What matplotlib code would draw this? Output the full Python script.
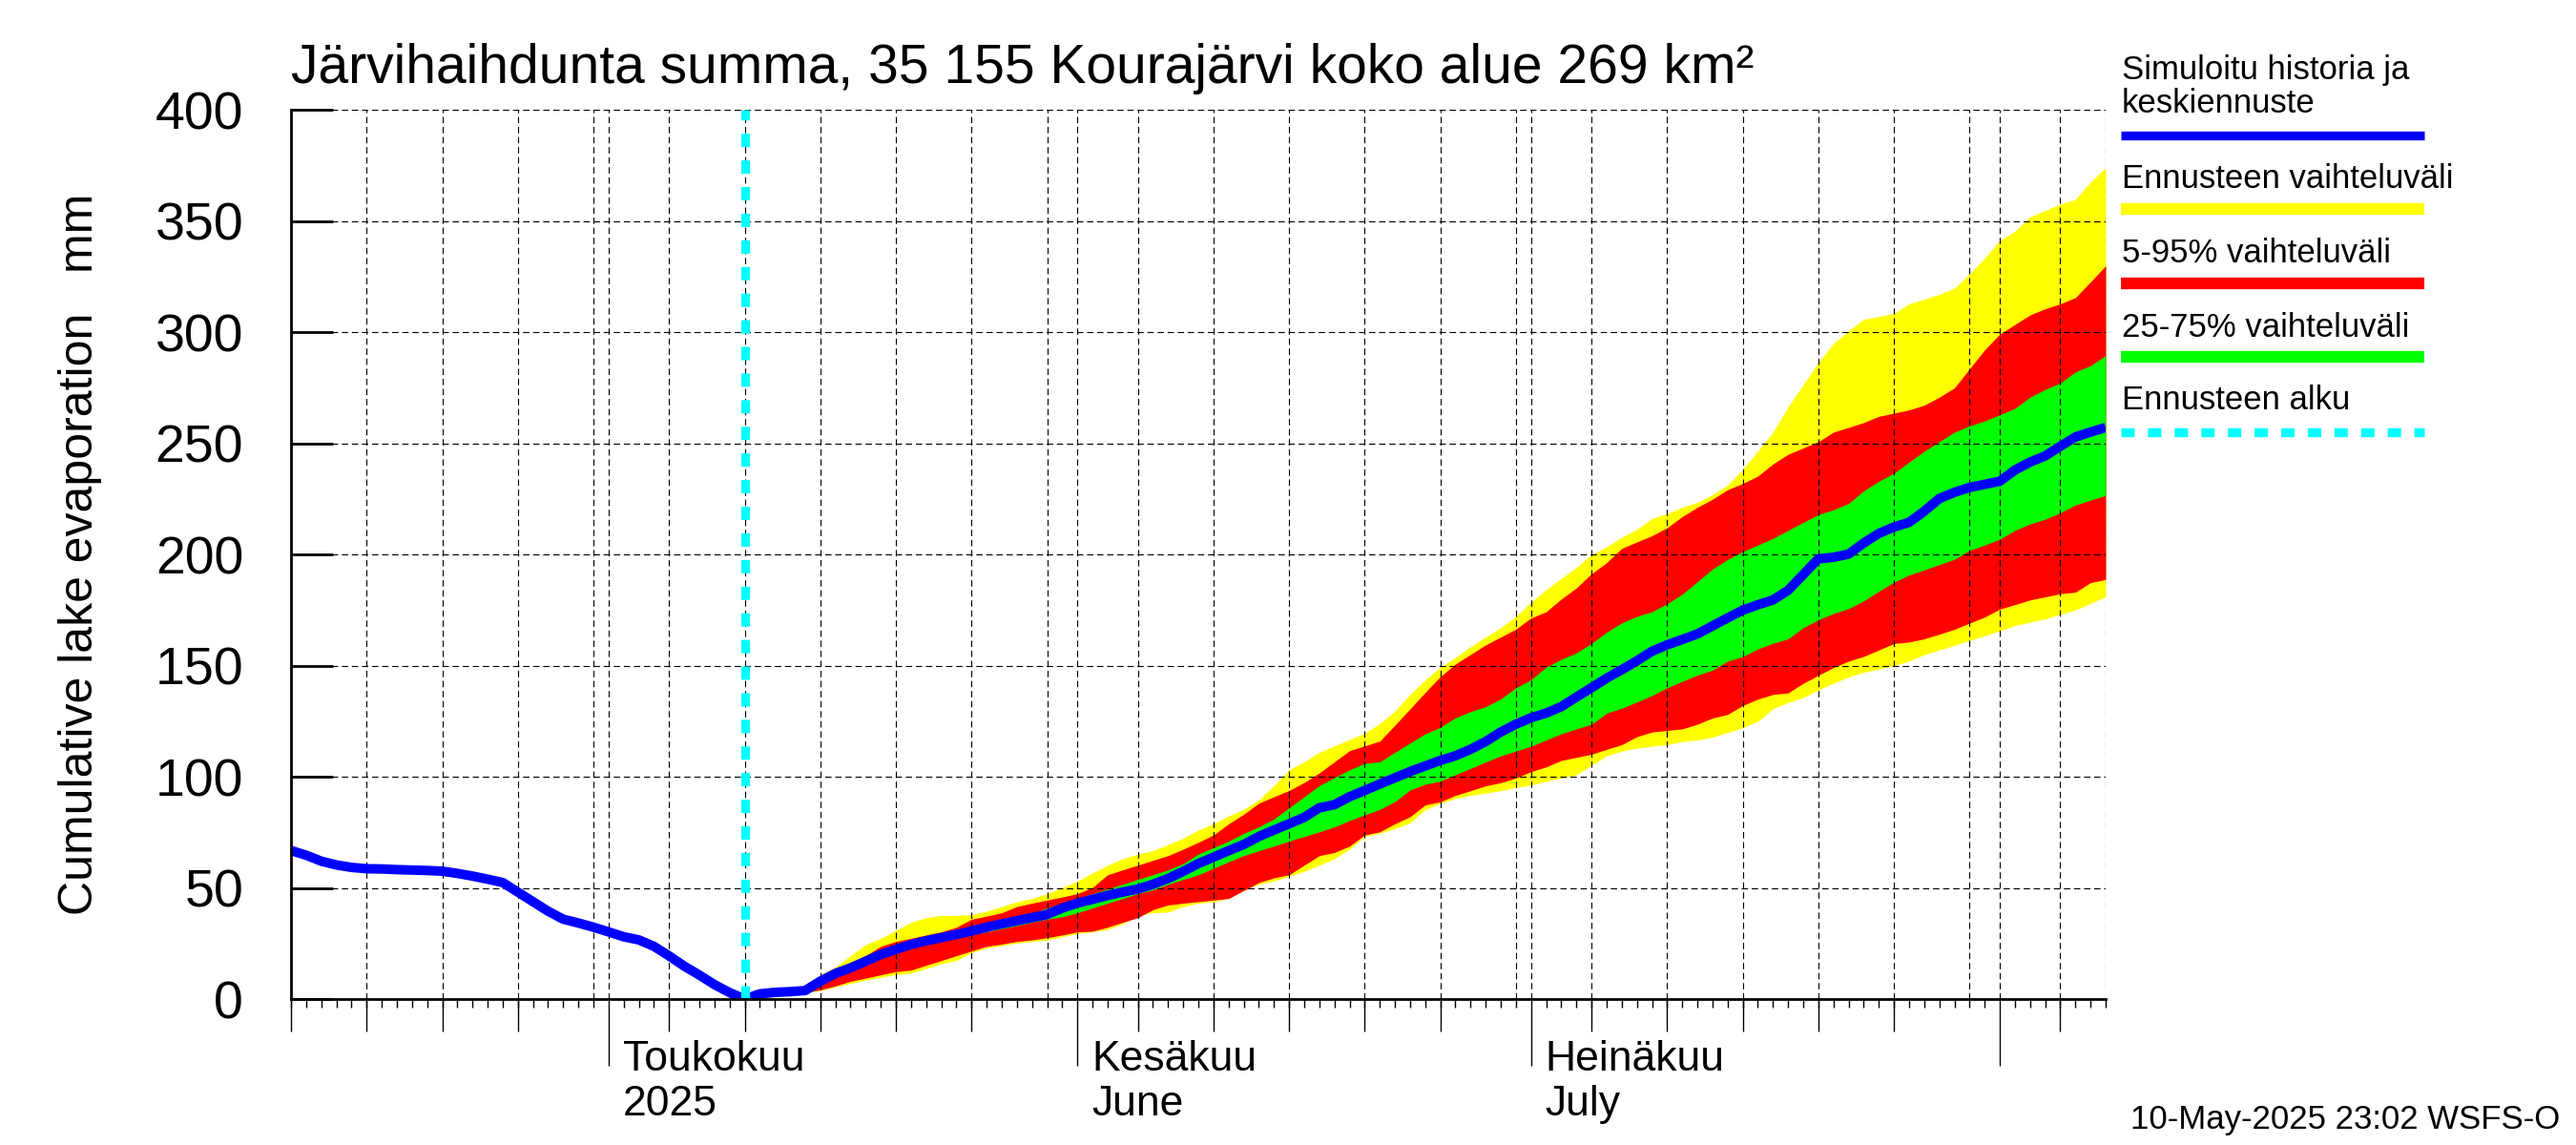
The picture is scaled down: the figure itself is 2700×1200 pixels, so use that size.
import numpy as np
import pandas as pd
import matplotlib
matplotlib.use("Agg")
import matplotlib.pyplot as plt
import matplotlib.dates as mdates
import matplotlib.transforms as mtransforms
from matplotlib.lines import Line2D

plt.rcParams['font.family'] = ['Liberation Sans', 'DejaVu Sans']

# ---- data (mm), daily from 10 Apr 2025 ----
start_date = '2025-04-10'
end_date = '2025-08-08'
forecast_start = '2025-05-10'

# simulated history 10.4. - 10.5.
history = [66.8, 64.7, 62.0, 60.3, 59.2, 58.6, 58.5, 58.2, 58.0, 57.8,
           57.5, 56.5, 55.3, 53.9, 52.4, 48.1, 43.8, 39.5, 35.9, 34.2,
           32.3, 30.2, 28.0, 26.6, 23.7, 19.4, 14.8, 10.8, 6.5, 2.9, 0.0]

# forecast 10.5. - 8.8.
median = [0.0, 2.3, 3.0, 3.3, 3.8, 8.0, 11.5, 14.0, 17.0, 20.0,
          22.3, 24.5, 26.2, 27.6, 29.0, 30.6, 32.3, 33.8, 35.2, 36.6,
          38.0, 40.9, 43.1, 44.8, 46.6, 48.1, 49.5, 51.6, 54.2, 57.4,
          60.9, 63.8, 66.7, 69.5, 73.1, 76.0, 78.8, 81.7, 86.0, 87.4,
          91.0, 93.8, 96.7, 99.5, 102.3, 104.8, 107.3, 109.4, 112.3, 115.8,
          120.1, 123.6, 126.5, 128.6, 131.5, 135.8, 140.0, 144.3, 148.1, 152.1,
          156.4, 159.3, 161.7, 164.2, 167.8, 171.4, 174.9, 177.3, 179.5, 183.8,
          190.9, 198.0, 198.7, 200.1, 205.1, 209.4, 212.3, 214.4, 219.4, 225.1,
          227.9, 230.1, 231.5, 232.9, 237.9, 241.5, 244.3, 248.6, 252.8, 255.0,
          257.1]

range_max = [0.0, 2.5, 3.3, 3.8, 5.0, 11.0, 14.4, 19.5, 24.5, 27.3,
             30.9, 34.5, 36.6, 37.6, 37.6, 38.0, 39.5, 41.6, 43.8, 45.2,
             47.4, 50.2, 53.0, 56.7, 60.2, 63.1, 65.2, 66.7, 69.5, 72.4,
             76.0, 78.8, 82.4, 85.3, 89.6, 96.0, 103.1, 106.7, 111.0, 113.9,
             116.7, 119.6, 123.9, 129.6, 137.0, 143.6, 149.3, 153.6, 158.5, 162.8,
             167.1, 172.1, 178.5, 184.2, 189.2, 194.2, 199.9, 203.4, 207.7, 211.3,
             216.2, 218.4, 221.2, 223.4, 226.9, 231.2, 238.3, 246.5, 255.0, 266.4,
             276.4, 286.3, 294.9, 300.6, 305.8, 307.0, 308.4, 312.7, 314.8, 317.0,
             319.8, 326.2, 333.3, 341.2, 345.4, 351.9, 354.7, 357.5, 359.7, 367.5,
             373.9]

p95 = [0.0, 2.4, 3.2, 3.6, 4.3, 10.2, 12.3, 15.9, 19.5, 23.7,
       25.9, 27.3, 28.8, 30.2, 32.3, 35.9, 37.3, 38.8, 41.6, 43.1,
       44.5, 45.9, 47.4, 50.2, 55.9, 58.1, 60.2, 62.4, 64.5, 67.4,
       70.5, 73.8, 78.8, 83.1, 88.1, 91.0, 93.8, 97.4, 101.7, 106.7,
       111.7, 113.9, 116.0, 123.2, 130.5, 137.9, 145.0, 150.7, 155.0, 159.3,
       162.8, 166.4, 171.4, 174.2, 179.9, 184.9, 191.3, 196.3, 202.7, 205.6,
       208.4, 212.0, 217.0, 221.2, 224.8, 229.1, 231.9, 235.2, 240.7, 245.0,
       247.9, 250.7, 255.0, 257.1, 259.3, 262.1, 263.5, 265.0, 267.1, 270.7,
       274.9, 283.5, 292.0, 299.1, 303.4, 307.7, 310.5, 312.7, 315.5, 322.6,
       329.8]

p75 = [0.0, 2.35, 3.1, 3.45, 3.9, 9.0, 12.8, 15.0, 18.0, 21.0,
       23.2, 25.2, 26.9, 28.5, 29.9, 31.6, 33.3, 34.9, 36.6, 38.5,
       40.9, 43.1, 45.2, 47.4, 49.5, 51.6, 53.8, 55.9, 58.1, 60.9,
       65.2, 68.1, 71.0, 74.5, 77.4, 81.0, 86.0, 91.0, 96.0, 99.6,
       103.1, 106.0, 106.7, 111.0, 115.1, 119.3, 122.2, 126.5, 129.3, 131.5,
       135.0, 140.0, 143.6, 149.3, 152.8, 155.7, 160.0, 165.0, 169.2, 172.1,
       174.2, 177.8, 182.1, 187.7, 193.4, 197.7, 201.3, 204.2, 207.2, 210.8,
       214.4, 217.9, 220.1, 222.9, 228.6, 232.9, 236.5, 241.5, 246.4, 250.7,
       255.0, 257.8, 260.0, 262.8, 265.7, 270.7, 274.2, 277.1, 282.1, 284.9,
       289.5]

p25 = [0.0, 2.2, 2.9, 3.15, 3.6, 7.0, 10.5, 13.0, 16.0, 19.0,
       21.2, 23.0, 24.7, 26.2, 27.6, 29.0, 30.2, 31.6, 33.0, 34.5,
       35.9, 37.0, 38.8, 40.9, 43.1, 45.2, 47.4, 49.1, 51.6, 53.8,
       55.9, 58.8, 61.7, 64.5, 66.7, 68.8, 71.0, 73.1, 75.2, 77.4,
       80.3, 82.8, 85.3, 88.8, 94.0, 96.6, 98.0, 100.9, 103.7, 106.6,
       109.4, 111.5, 113.7, 116.5, 119.3, 121.5, 123.6, 128.6, 130.8, 133.6,
       136.5, 140.0, 142.9, 145.7, 147.9, 152.0, 154.0, 157.5, 160.0, 162.0,
       167.0, 170.6, 173.4, 175.6, 179.1, 183.4, 187.5, 190.7, 193.0, 195.4,
       197.8, 201.8, 204.2, 206.8, 210.8, 213.7, 215.8, 218.7, 222.2, 224.4,
       226.5]

p5 = [0.0, 2.0, 2.6, 2.9, 3.0, 4.1, 5.9, 8.0, 9.4, 10.9,
      12.3, 13.0, 15.2, 17.3, 19.5, 21.6, 23.7, 24.7, 25.9, 26.6,
      27.6, 28.8, 30.2, 30.5, 32.3, 34.5, 36.6, 40.2, 42.3, 43.1,
      43.8, 44.5, 45.2, 48.8, 52.4, 54.5, 55.9, 60.2, 64.5, 65.9,
      68.8, 73.8, 75.2, 78.8, 82.0, 87.3, 88.7, 91.6, 93.7, 95.9,
      97.3, 99.4, 102.3, 104.4, 107.3, 108.7, 110.1, 112.3, 114.4, 118.0,
      120.1, 120.8, 121.5, 123.6, 126.4, 128.0, 132.0, 134.9, 137.0, 137.7,
      142.0, 145.6, 149.1, 152.0, 154.1, 157.0, 159.9, 160.6, 162.0, 164.1,
      166.3, 169.1, 171.8, 175.4, 177.4, 179.5, 180.9, 182.3, 183.0, 187.3,
      188.7]

range_min = [0.0, 1.9, 2.5, 2.8, 2.9, 3.8, 5.5, 7.0, 8.5, 9.7,
             11.0, 11.6, 13.7, 15.9, 17.3, 20.9, 23.0, 24.0, 25.2, 25.9,
             26.6, 28.0, 29.5, 30.2, 31.3, 33.8, 37.6, 38.8, 39.1, 41.6,
             43.1, 43.8, 45.2, 48.8, 51.6, 53.1, 55.2, 57.4, 60.2, 63.1,
             67.4, 73.1, 74.5, 76.7, 79.2, 85.2, 88.0, 90.2, 91.6, 92.6,
             93.7, 95.2, 96.2, 98.0, 99.4, 100.9, 105.1, 109.4, 111.5, 112.9,
             113.7, 114.4, 115.8, 116.5, 117.8, 119.9, 122.0, 124.9, 130.6, 133.4,
             135.6, 139.1, 142.0, 144.9, 147.0, 148.4, 149.9, 152.0, 154.9, 157.0,
             159.1, 161.3, 163.4, 165.6, 168.0, 169.5, 171.0, 173.0, 175.0, 178.0,
             180.9]

month_labels = ['Toukokuu\n2025', 'Kesäkuu\nJune', 'Heinäkuu\nJuly', '']
y_ticks = [0, 50, 100, 150, 200, 250, 300, 350, 400]

title = 'Järvihaihdunta summa, 35 155 Kourajärvi koko alue 269 km²'
ylabel = 'Cumulative lake evaporation   mm'
legend_items = [
    (['Simuloitu historia ja', 'keskiennuste'], '#0000ff'),
    (['Ennusteen vaihteluväli'], '#ffff00'),
    (['5-95% vaihteluväli'], '#ff0000'),
    (['25-75% vaihteluväli'], '#00ff00'),
    (['Ennusteen alku'], '#00ffff'),
]
footer = '10-May-2025 23:02 WSFS-O'

# ---- dates ----
dates = pd.date_range(start_date, end_date, freq='D')
fc0 = pd.Timestamp(forecast_start)
hist_dates = dates[dates <= fc0]
fc_dates = dates[dates >= fc0]

PX = 72.0 / 100.0  # points per pixel at dpi 100

fig = plt.figure(figsize=(27, 12), dpi=100)
ax = fig.add_axes([305 / 2700, 1 - 1047 / 1200, 1902 / 2700, 932 / 1200])

# bands
ax.fill_between(fc_dates, range_min, range_max, color='#ffff00', lw=0, zorder=1)
ax.fill_between(fc_dates, p5, p95, color='#ff0000', lw=0, zorder=1.1)
ax.fill_between(fc_dates, p25, p75, color='#00ff00', lw=0, zorder=1.2)

# grid (drawn over the bands)
grid_kw = dict(color='black', lw=0.8, ls=(0, (6, 3.5)), zorder=2)
for y in y_ticks[1:]:
    ax.axhline(y, **grid_kw)
grid_days = [d for d in dates if d.day in (1, 5, 10, 15, 20, 25, 30)] + [dates[-1]]
for d in grid_days:
    ax.axvline(d, **grid_kw)

# median line
ax.plot(hist_dates, history, color='#0000ff', lw=7.2, solid_capstyle='butt', zorder=3)
ax.plot(fc_dates, median, color='#0000ff', lw=7.2, solid_capstyle='butt', zorder=3)

# forecast start
ax.axvline(fc0, color='#00ffff', lw=6.7, ls=(0, (1.5, 1.5)), zorder=4)

ax.set_xlim(dates[0], dates[-1])
ax.set_ylim(0, 400)

for s in ['top', 'right']:
    ax.spines[s].set_visible(False)
for s in ['left', 'bottom']:
    ax.spines[s].set_linewidth(2.0)
    ax.spines[s].set_zorder(5)

# y axis
ax.set_yticks(y_ticks)
ax.tick_params(axis='y', direction='in', length=44 * PX, width=2.0,
               labelsize=40, pad=50 * PX)
ax.set_ylabel(ylabel, fontsize=36)
ax.yaxis.label.set_va('center')
ax.yaxis.set_label_coords(-0.1162, 0.5)

# x axis: month ticks (long, labelled), daily minor ticks
month_starts = [d for d in dates if d.day == 1]
ax.set_xticks(month_starts)
ax.set_xticklabels(month_labels)
ax.xaxis.set_minor_locator(mdates.DayLocator())
ax.tick_params(axis='x', which='major', direction='out', length=70 * PX,
               width=1.0, labelsize=32, pad=-27 * PX)
ax.tick_params(axis='x', which='minor', direction='out', length=9 * PX, width=1.0)
shift = mtransforms.ScaledTranslation(15 / 100, 0, fig.dpi_scale_trans)
for lab in ax.get_xticklabels():
    lab.set_transform(lab.get_transform() + shift)
    lab.set_ha('left')
    lab.set_va('top')
    lab.set_linespacing(1.2)

# 5-day ticks
sec = ax.secondary_xaxis('bottom')
sec.set_xticks([d for d in dates if d.day in (5, 10, 15, 20, 25)])
sec.tick_params(axis='x', direction='out', length=34 * PX, width=1.0,
                labelbottom=False)
sec.spines['bottom'].set_visible(False)

ax.set_title(title, loc='left', fontsize=41, pad=28 * PX)

# legend on the right
lx0, lx1 = 2223 / 2700, 2541 / 2700
tx = 2224 / 2700
baselines = [[83, 118], [197], [275], [353], [429]]
line_y = [142, 219, 297, 374, 453]
line_w = [6.7, 8.9, 8.9, 8.9, 6.7]
for (texts, color), bl, ly, lw in zip(legend_items, baselines, line_y, line_w):
    for t, b in zip(texts, bl):
        fig.text(tx, 1 - b / 1200, t, fontsize=25, ha='left', va='baseline')
    ls = (0, (1.5, 1.5)) if color == '#00ffff' else '-'
    fig.add_artist(Line2D([lx0, lx1], [1 - ly / 1200] * 2, transform=fig.transFigure,
                          color=color, lw=lw, ls=ls, solid_capstyle='butt',
                          dash_capstyle='butt'))

fig.text(2683 / 2700, 1 - 1183 / 1200, footer, fontsize=25, ha='right', va='baseline')

fig.savefig('out.png', dpi=100)
